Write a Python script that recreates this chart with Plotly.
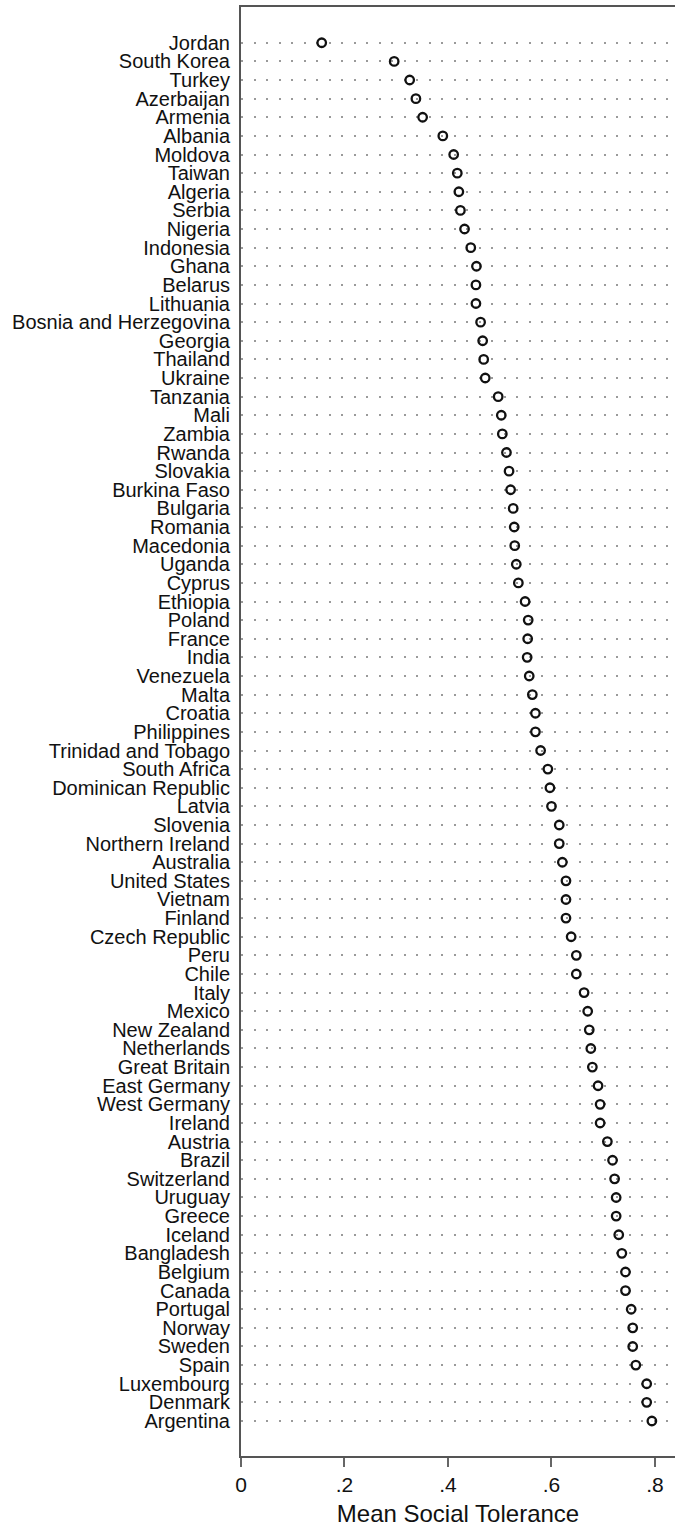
import plotly.graph_objects as go

countries = [
    "Jordan", "South Korea", "Turkey", "Azerbaijan", "Armenia", "Albania", "Moldova",
    "Taiwan", "Algeria", "Serbia", "Nigeria", "Indonesia", "Ghana", "Belarus",
    "Lithuania", "Bosnia and Herzegovina", "Georgia", "Thailand", "Ukraine",
    "Tanzania", "Mali", "Zambia", "Rwanda", "Slovakia", "Burkina Faso", "Bulgaria",
    "Romania", "Macedonia", "Uganda", "Cyprus", "Ethiopia", "Poland", "France",
    "India", "Venezuela", "Malta", "Croatia", "Philippines", "Trinidad and Tobago",
    "South Africa", "Dominican Republic", "Latvia", "Slovenia", "Northern Ireland",
    "Australia", "United States", "Vietnam", "Finland", "Czech Republic", "Peru",
    "Chile", "Italy", "Mexico", "New Zealand", "Netherlands", "Great Britain",
    "East Germany", "West Germany", "Ireland", "Austria", "Brazil", "Switzerland",
    "Uruguay", "Greece", "Iceland", "Bangladesh", "Belgium", "Canada", "Portugal",
    "Norway", "Sweden", "Spain", "Luxembourg", "Denmark", "Argentina",
]

tolerance = [
    0.156, 0.296, 0.326, 0.338, 0.351, 0.390, 0.411,
    0.418, 0.421, 0.424, 0.432, 0.444, 0.455, 0.454,
    0.454, 0.463, 0.467, 0.469, 0.472,
    0.497, 0.503, 0.505, 0.513, 0.518, 0.521, 0.526,
    0.528, 0.529, 0.532, 0.536, 0.549, 0.555, 0.554,
    0.553, 0.557, 0.563, 0.569, 0.569, 0.579,
    0.593, 0.597, 0.600, 0.615, 0.615,
    0.621, 0.628, 0.628, 0.628, 0.638, 0.648,
    0.648, 0.663, 0.670, 0.673, 0.676, 0.679,
    0.690, 0.694, 0.694, 0.708, 0.718, 0.722,
    0.725, 0.725, 0.730, 0.736, 0.743, 0.743, 0.754,
    0.757, 0.757, 0.763, 0.784, 0.784, 0.794,
]

x_tickvals = [0, 0.2, 0.4, 0.6, 0.8]
x_ticktext = ["0", ".2", ".4", ".6", ".8"]

fig = go.Figure(
    go.Scatter(
        x=tolerance,
        y=countries,
        mode="markers",
        marker=dict(symbol="circle-open", size=8.5, color="#111111",
                    line=dict(width=2.3, color="#111111")),
        showlegend=False,
        cliponaxis=False,
    )
)

n = len(countries)
fig.update_layout(
    width=675,
    height=1527,
    margin=dict(l=241, r=0, t=7, b=71),
    paper_bgcolor="white",
    plot_bgcolor="white",
    font=dict(family="Liberation Sans, Arial, Helvetica, sans-serif", color="#111111"),
)

fig.update_xaxes(
    range=[0, 0.8387],
    tickvals=x_tickvals,
    ticktext=x_ticktext,
    showgrid=False,
    zeroline=False,
    showline=True,
    linecolor="#555555",
    linewidth=2,
    mirror=True,
    ticks="outside",
    ticklen=9,
    tickwidth=2,
    tickcolor="#666666",
    tickfont=dict(size=21, color="#111111"),
    title=dict(text="Mean Social Tolerance", font=dict(size=24, color="#111111"), standoff=11),
    automargin=False,
)

fig.update_yaxes(
    type="category",
    categoryorder="array",
    categoryarray=countries,
    tickmode="linear",
    tick0=0,
    dtick=1,
    range=[n - 1 + 1.88, -1.92],
    showgrid=True,
    gridcolor="#9a9a9a",
    gridwidth=2,
    griddash="2px,10.5px",
    zeroline=False,
    showline=True,
    linecolor="#555555",
    linewidth=2,
    ticks="",
    tickfont=dict(size=20, color="#111111"),
    ticklabelstandoff=5,
    automargin=False,
)

fig.write_html(
    "out.html",
    config={"displayModeBar": False},
    post_script="document.body.style.margin='0';document.body.style.overflow='hidden';",
)
